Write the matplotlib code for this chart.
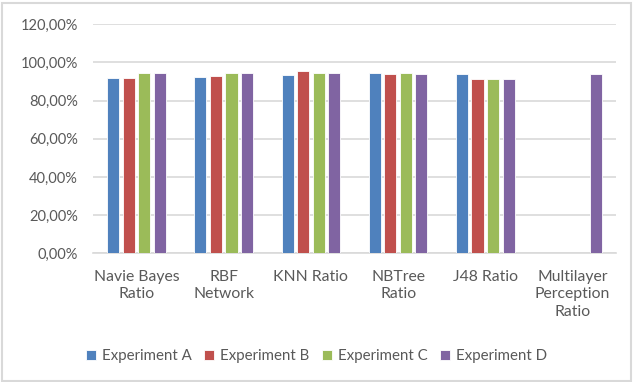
import numpy as np
import matplotlib.pyplot as plt
from matplotlib.ticker import FuncFormatter
from matplotlib.patches import Rectangle

categories = ["Navie Bayes\nRatio", "RBF\nNetwork", "KNN Ratio",
              "NBTree\nRatio", "J48 Ratio", "Multilayer\nPerception\nRatio"]
series_names = ["Experiment A", "Experiment B", "Experiment C", "Experiment D"]
exp_a = [0.917, 0.925, 0.936, 0.946, 0.941, np.nan]
exp_b = [0.917, 0.930, 0.954, 0.941, 0.912, np.nan]
exp_c = [0.946, 0.946, 0.946, 0.946, 0.912, np.nan]
exp_d = [0.943, 0.943, 0.946, 0.941, 0.912, 0.941]
colors = ["#4F81BD", "#C0504D", "#9BBB59", "#8064A2"]

plt.rcParams['font.family'] = ['Lato', 'DejaVu Sans']

fig = plt.figure(figsize=(6.33, 3.82), dpi=100)
ax = fig.add_axes([93 / 633, 1 - 253.3 / 382, 523 / 633, (253.3 - 24.3) / 382])

x = np.arange(len(categories))
width = 0.138
step = 0.178
for i, (vals, c) in enumerate(zip([exp_a, exp_b, exp_c, exp_d], colors)):
    ax.bar(x + (i - 1.5) * step, vals, width, color=c, label=series_names[i],
           edgecolor="white", linewidth=0.6, zorder=3)

ax.set_xlim(-0.5, len(categories) - 0.5)
ax.set_ylim(0, 1.2)
ax.set_yticks(np.arange(0, 1.21, 0.2))
ax.yaxis.set_major_formatter(FuncFormatter(lambda v, p: f"{v * 100:.2f}%".replace(".", ",")))
ax.grid(axis="y", color="#D9D9D9", linewidth=1.2, zorder=0)
for s in ["top", "right", "left"]:
    ax.spines[s].set_visible(False)
ax.spines["bottom"].set_color("#D9D9D9")
ax.spines["bottom"].set_linewidth(1.2)
ax.tick_params(axis="both", length=0, colors="#595959")
ax.tick_params(axis="y", pad=11, labelsize=10.5)
ax.tick_params(axis="x", pad=12, labelsize=11.3)
ax.set_xticks(x)
ax.set_xticklabels(categories, linespacing=1.3)

fig.legend(loc="center", bbox_to_anchor=(0.5, 1 - 356 / 382), ncol=4, frameon=False,
           fontsize=10.8, handlelength=0.7, handleheight=0.7, columnspacing=0.8,
           handletextpad=0.4, labelcolor="#595959")

# light frame around the chart area
fig.patches.append(Rectangle((0.003, 0.003), 0.994, 0.99, transform=fig.transFigure,
                             fill=False, edgecolor="#D9D9D9", linewidth=1.5))

fig.savefig("out.png", dpi=100)
